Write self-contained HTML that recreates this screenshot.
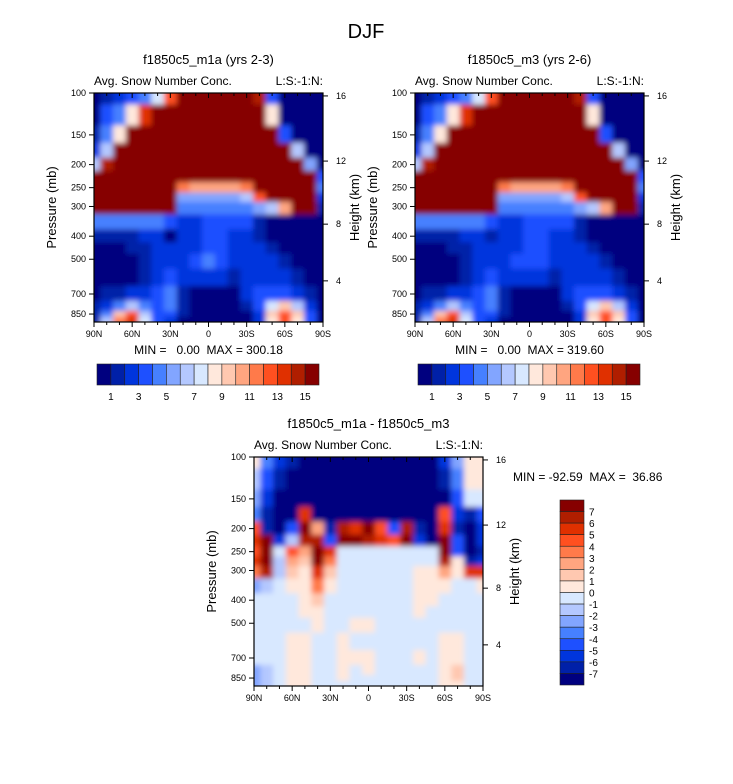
<!DOCTYPE html>
<html><head><meta charset="utf-8"><style>
body{margin:0;background:#fff;}
svg{display:block;font-family:"Liberation Sans",Arial,sans-serif;}
text{white-space:pre;}
</style></head><body>
<svg id="fig" width="733" height="784" viewBox="0 0 733 784">
<defs>
<filter id="bl" x="-5%" y="-5%" width="110%" height="110%"><feGaussianBlur stdDeviation="2.6"/></filter>
</defs>
<text x="366" y="38" font-size="20" text-anchor="middle">DJF</text>
</svg>
<script>
const lats=[90,80,70,60,50,40,30,20,10,0,-10,-20,-30,-40,-50,-60,-70,-80,-90];
const levels=[100,125,150,175,200,225,250,275,300,350,400,450,500,600,700,800,850,900];
const field1=[
[0,1,2,3,4,7,12,15,15,15,15,15,15,14,3,0,0,0,0],
[0,3,4,8,13,15,15,15,15,15,15,15,15,15,8,0,0,0,0],
[1,4,8,15,15,15,15,15,15,15,15,15,15,15,15,3,0,0,0],
[2,6,15,15,15,15,15,15,15,15,15,15,15,15,15,15,6,0,0],
[6,14,15,15,15,15,15,15,15,15,15,15,15,15,15,15,15,5,0],
[15,15,15,15,15,15,15,15,15,15,15,15,15,15,15,15,15,15,3],
[15,15,15,15,15,15,15,11,10,10,10,10,11,15,15,15,15,15,4],
[15,15,15,15,15,15,15,5,5,5,5,5,6,12,15,15,15,15,2],
[15,15,15,15,15,15,15,4,4,4,4,4,4,5,6,10,15,15,1],
[4,4,4,4,4,4,3,2,2,3,3,3,3,1,0,0,0,0,0],
[1,1,1,1,2,2,0,2,2,3,3,2,2,1,0,0,0,0,0],
[0,0,0,1,1,2,2,2,2,3,3,2,2,2,1,0,0,0,0],
[0,0,0,0,1,2,2,2,3,4,3,2,2,2,2,1,0,0,0],
[0,0,0,0,1,2,3,2,2,2,2,1,2,2,2,2,1,0,0],
[0,1,1,2,2,3,4,1,0,0,0,0,2,3,3,3,2,1,0],
[1,2,4,6,4,3,4,1,0,0,0,0,1,3,7,9,6,2,0],
[1,4,9,12,6,3,3,1,0,0,0,0,0,2,9,12,9,3,0],
[1,6,11,13,7,3,2,0,0,0,0,0,0,2,8,12,8,3,0]];
const field2=[
[0,1,2,3,4,7,12,15,15,15,15,15,15,14,3,0,0,0,0],
[0,3,4,8,13,15,15,15,15,15,15,15,15,15,8,0,0,0,0],
[1,4,8,15,15,15,15,15,15,15,15,15,15,15,15,3,0,0,0],
[2,6,15,15,15,15,15,15,15,15,15,15,15,15,15,15,6,0,0],
[6,14,15,15,15,15,15,15,15,15,15,15,15,15,15,15,15,5,0],
[15,15,15,15,15,15,15,15,15,15,15,15,15,15,15,15,15,15,3],
[15,15,15,15,15,15,15,11,10,10,10,10,11,15,15,15,15,15,4],
[15,15,15,15,15,15,15,5,5,5,5,5,6,12,15,15,15,15,2],
[15,15,15,15,15,15,15,4,4,4,4,4,4,5,6,10,15,15,1],
[4,4,4,4,4,4,3,2,2,3,3,3,3,1,0,0,0,0,0],
[1,1,1,1,2,2,1,2,2,3,3,2,2,1,0,0,0,0,0],
[0,0,0,1,1,2,2,2,2,3,3,2,2,2,1,0,0,0,0],
[0,0,0,0,1,2,2,2,3,3,3,2,2,2,2,1,0,0,0],
[0,0,0,0,1,2,3,2,2,2,2,1,2,2,2,2,1,0,0],
[0,1,1,2,2,3,4,1,0,0,0,0,2,3,3,3,2,1,0],
[1,2,4,6,4,3,4,1,0,0,0,0,1,3,7,9,6,2,0],
[1,4,9,12,6,3,3,1,0,0,0,0,0,2,9,12,9,3,0],
[1,6,11,13,7,3,2,0,0,0,0,0,0,2,8,12,8,3,0]];
const field3=[
[8,4,2,1,0,0,0,0,0,0,0,0,0,0,0,2,5,8,8],
[6,3,1,0,0,0,0,0,0,0,0,0,0,0,0,1,4,8,8],
[5,2,0,0,0,0,0,0,0,0,0,0,0,0,0,0,3,7,7],
[4,1,0,0,13,0,0,0,0,0,0,0,0,0,0,12,2,1,3],
[12,1,0,3,15,10,1,14,13,15,12,3,14,1,0,13,1,0,2],
[13,15,2,6,14,14,3,15,15,14,13,12,15,2,0,15,3,0,2],
[12,15,7,12,10,15,13,7,7,7,7,7,7,7,7,15,3,0,1],
[13,15,6,10,9,15,11,7,7,7,7,7,7,7,7,14,8,1,2],
[11,14,6,9,8,13,9,7,7,7,7,7,7,8,8,10,8,13,13],
[5,6,7,8,8,11,8,7,7,7,7,7,7,8,8,8,7,7,8],
[7,7,7,7,8,9,7,7,7,7,7,7,7,8,8,7,7,7,7],
[7,7,7,7,8,8,7,7,7,7,7,7,7,8,7,7,7,7,7],
[7,7,7,7,7,8,7,7,8,8,7,7,7,7,7,7,7,7,7],
[7,7,7,8,8,7,7,8,7,7,7,7,7,7,7,8,8,7,7],
[7,7,7,8,8,7,7,8,8,8,7,7,7,8,7,8,8,7,7],
[5,6,7,8,8,7,7,8,7,8,7,7,7,7,7,8,9,7,7],
[5,6,7,8,8,7,7,8,7,7,7,7,7,7,7,8,9,7,7],
[5,6,7,8,8,7,7,7,7,7,7,7,7,7,7,8,8,7,7]];
const palette=["#00007f","#0020a8","#0035dd","#1e50ff","#4680ff","#82a5ff","#b4c8ff","#d8e8ff","#ffe8dc","#ffc8b0","#ffa580","#ff7a4a","#ff5020","#e03000","#b01e00","#860000"];
const topCbLabels=["1","3","5","7","9","11","13","15"];
const diffCbLabels=["7","6","5","4","3","2","1","0","-1","-2","-3","-4","-5","-6","-7"];
const pTicks=[100,150,200,250,300,400,500,700,850];
const zTicks=[4,8,12,16];
const latTicks=[90,60,30,0,-30,-60,-90];
const NS="http://www.w3.org/2000/svg";
const svg=document.getElementById('fig');
function mk(tag,attrs,parent){const e=document.createElementNS(NS,tag);for(const k in attrs)e.setAttribute(k,attrs[k]);(parent||svg).appendChild(e);return e;}
function latLabel(l){return l===0?"0":(Math.abs(l)+(l>0?"N":"S"));}
function zToP(z){z*=1000;return z<11000?1013.25*Math.pow(1-2.25577e-5*z,5.2559):226.32*Math.exp(-(z-11000)/6341.6);}
function panel(id,x0,y0,field,title,ty,mm){
  const W=229,H=229,pBot=918;
  const xs=l=>x0+(90-l)/180*W;
  const ys=p=>y0+Math.log10(p/100)/Math.log10(pBot/100)*H;
  const g=mk('g',{},svg);
  
  
  const cp=mk('clipPath',{id:'c'+id},g);
  mk('rect',{x:x0,y:y0,width:W,height:H},cp);
  const cg=mk('g',{'clip-path':'url(#c'+id+')'},g);
  const fg=mk('g',{filter:'url(#bl)'},cg);
  for(let i=0;i<field.length;i++){
    const pa=i===0?80:Math.sqrt(levels[i]*levels[i-1]);
    const pb=i===levels.length-1?1000:Math.sqrt(levels[i]*levels[i+1]);
    for(let j=0;j<lats.length;j++){
      const la=j===0?100:(lats[j]+lats[j-1])/2;
      const lb=j===lats.length-1?-100:(lats[j]+lats[j+1])/2;
      const r=mk('rect',{x:xs(la),y:ys(pa),width:xs(lb)-xs(la)+0.6,height:ys(pb)-ys(pa)+0.6,fill:palette[field[i][j]]},fg);
      
      
    }
  }
  mk('rect',{x:x0,y:y0,width:W,height:H,fill:'none',stroke:'#000','stroke-width':1.2},g);
  const t=mk('text',{x:x0+W/2,y:ty,'font-size':13,'text-anchor':'middle'},g);t.textContent=title;
  
  const s1=mk('text',{x:x0,y:y0-8,'font-size':12},g);s1.textContent="Avg. Snow Number Conc.";
  
  const s2=mk('text',{x:x0+W,y:y0-8,'font-size':12,'text-anchor':'end'},g);s2.textContent="L:S:-1:N:";
  
  for(let l=90;l>=-90;l-=10){const x=xs(l);const maj=l%30===0;
    mk('line',{x1:x,x2:x,y1:y0+H,y2:y0+H+(maj?5:3),stroke:'#000'},g);
    mk('line',{x1:x,x2:x,y1:y0,y2:y0+(maj?5:3),stroke:'#000'},g);}
  latTicks.forEach(l=>{const tx=mk('text',{x:xs(l),y:y0+H+15,'font-size':9,'text-anchor':'middle'},g);tx.textContent=latLabel(l);
    });
  pTicks.forEach(p=>{const y=ys(p);mk('line',{x1:x0-5,x2:x0,y1:y,y2:y,stroke:'#000'},g);
    const tx=mk('text',{x:x0-8,y:y+3,'font-size':9,'text-anchor':'end'},g);tx.textContent=p;
    });
  zTicks.forEach(z=>{const y=ys(zToP(z));mk('line',{x1:x0+W,x2:x0+W+5,y1:y,y2:y,stroke:'#000'},g);
    const tx=mk('text',{x:x0+W+13,y:y+3,'font-size':9},g);tx.textContent=z;
    });
  const yl=mk('text',{transform:`translate(${x0-38},${y0+H/2}) rotate(-90)`,'font-size':13,'text-anchor':'middle'},g);yl.textContent="Pressure (mb)";
  
  const yr=mk('text',{transform:`translate(${x0+W+36},${y0+H/2}) rotate(-90)`,'font-size':13,'text-anchor':'middle'},g);yr.textContent="Height (km)";
  
  if(mm){const m=mk('text',{x:x0+W/2,y:y0+H+32,'font-size':12,'text-anchor':'middle'},g);m.textContent=mm;
    }
}
panel('panel-m1a',94,93,field1,'f1850c5_m1a (yrs 2-3)',64,'MIN =   0.00  MAX = 300.18');
panel('panel-m3',415,93,field2,'f1850c5_m3 (yrs 2-6)',64,'MIN =   0.00  MAX = 319.60');
panel('panel-diff',254,457,field3,'f1850c5_m1a - f1850c5_m3',428,null);
const mm3=mk('text',{x:513,y:481,'font-size':12});mm3.textContent="MIN = -92.59  MAX =  36.86";

function hbar(id,x0){
  const g=mk('g',{});
  const w=222/16;
  palette.forEach((c,i)=>{const r=mk('rect',{x:x0+i*w,y:364,width:w,height:21,fill:c,stroke:'#222','stroke-width':0.6},g);
    });
  topCbLabels.forEach((l,k)=>{const t=mk('text',{x:x0+(2*k+1)*w,y:400,'font-size':10,'text-anchor':'middle'},g);t.textContent=l;
    });
}
hbar('colorbar-m1a',97);hbar('colorbar-m3',418);
(function(){
  const g=mk('g',{});
  const h=185/16;
  for(let i=0;i<16;i++){const r=mk('rect',{x:560,y:500+i*h,width:24,height:h,fill:palette[15-i],stroke:'#222','stroke-width':0.6},g);
    }
  diffCbLabels.forEach((l,k)=>{const t=mk('text',{x:589,y:500+(k+1)*h+4,'font-size':10},g);t.textContent=l;
    });
})();
</script>
</body></html>
